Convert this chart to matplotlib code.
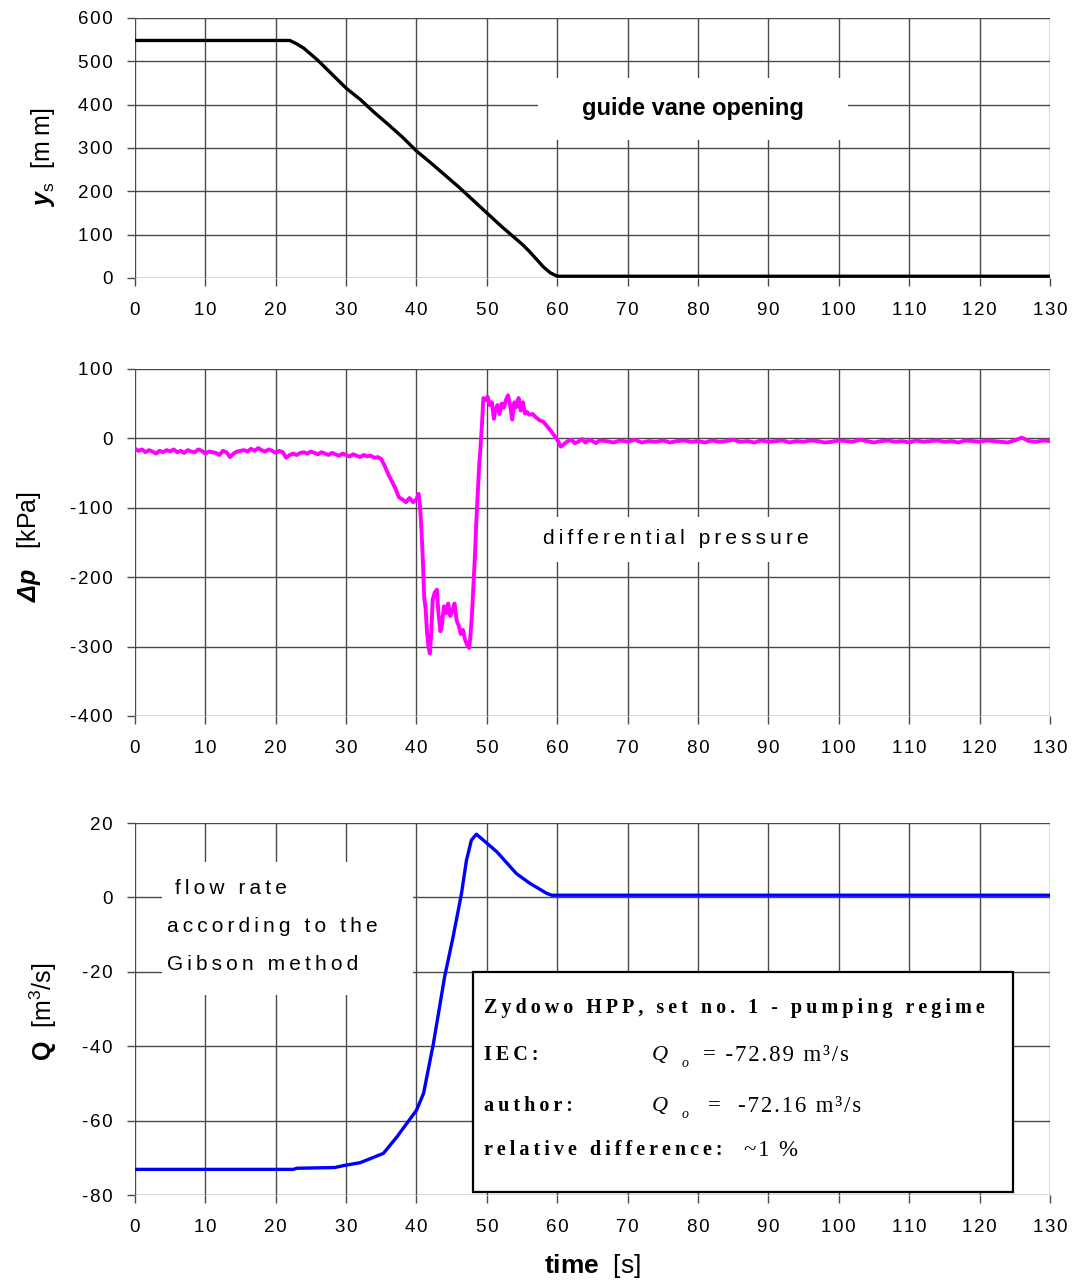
import numpy as np
import matplotlib
matplotlib.use('Agg')
import matplotlib.pyplot as plt
from matplotlib.patches import Rectangle
from matplotlib.ticker import FuncFormatter

plt.rcParams['font.family'] = ['Liberation Sans', 'DejaVu Sans']
plt.rcParams['axes.unicode_minus'] = False
plt.rcParams['mathtext.fontset'] = 'custom'
plt.rcParams['mathtext.rm'] = 'Liberation Sans'
plt.rcParams['mathtext.it'] = 'Liberation Sans:italic'
plt.rcParams['mathtext.bf'] = 'Liberation Sans:bold'
plt.rcParams['mathtext.bfit'] = 'Liberation Sans:bold:italic'

# guide vane opening y_s [mm]
t_vane = [0, 22, 23, 24, 26, 28, 30, 32, 34, 36, 38, 40, 42, 44, 46, 48,
          50, 52, 54, 55, 56, 57, 58, 59, 60, 130]
ys_vane = [548, 548, 540, 530, 502, 470, 438, 412, 382, 354, 325, 293, 266,
           238, 210, 180, 150, 120, 92, 78, 62, 44, 26, 12, 4, 4]

# differential pressure [kPa]
t_dp_early = np.arange(0, 34.5, 0.5)
dp_early = [-15, -18, -16, -20, -17, -19, -22, -18, -20, -17,
            -19, -16, -20, -18, -21, -17, -19, -20, -16, -18,
            -22, -19, -20, -21, -24, -18, -20, -27, -22, -19,
            -18, -17, -19, -15, -18, -14, -17, -19, -16, -18,
            -21, -18, -20, -28, -24, -22, -24, -21, -20, -22,
            -19, -21, -23, -20, -22, -24, -21, -23, -25, -22,
            -24, -26, -23, -25, -27, -24, -26, -25, -28]
t_dp_mid = [34.5, 35, 35.5, 36, 36.5, 37, 37.5, 38, 38.5, 39, 39.5, 40, 40.3,
            40.5, 40.7, 40.9, 41.1, 41.3, 41.5, 41.7, 41.9, 42.1, 42.3, 42.6,
            42.9, 43.1, 43.4, 43.6, 43.9, 44.2, 44.5, 44.8, 45.1, 45.4, 45.7,
            46.0, 46.3, 46.6, 46.9, 47.2, 47.5, 47.7, 47.9, 48.1, 48.3, 48.5,
            48.7, 48.9, 49.1, 49.3, 49.5, 49.8, 50.1, 50.4, 50.7, 51.0, 51.2,
            51.5, 51.8, 52.1, 52.4, 52.7, 53.0, 53.3, 53.6, 53.9, 54.2, 54.5,
            54.8, 55.1, 55.4, 55.7, 56.0, 56.5, 57.0, 57.5, 58.0, 58.5, 59.0,
            59.5, 60.0, 60.5, 61.0, 61.5, 62.0, 62.5, 63.0, 63.5, 64.0, 64.5,
            65.0, 65.5, 66.0]
dp_mid = [-27, -30, -40, -52, -62, -72, -85, -88, -92, -86, -92, -88, -80,
          -98, -130, -175, -230, -245, -280, -300, -310, -280, -232, -222,
          -218, -250, -278, -270, -242, -252, -238, -256, -248, -238, -262,
          -270, -282, -276, -290, -298, -302, -280, -250, -210, -170, -120,
          -80, -40, -12, 20, 58, 55, 60, 48, 52, 28, 40,
          48, 35, 50, 44, 55, 62, 48, 27, 52, 45, 58,
          40, 52, 36, 38, 34, 35, 30, 26, 24, 18, 12,
          5, -2, -12, -8, -4, -2, -7, -5, -1, -6, -2,
          -4, -7, -3]
t_dp_late = np.arange(67, 131, 1)
dp_late = [-4, -6, -3, -5, -2, -6, -4, -5, -3, -6,
           -4, -3, -5, -4, -6, -3, -5, -4, -2, -5,
           -4, -6, -3, -5, -4, -3, -6, -4, -5, -3,
           -4, -6, -5, -3, -4, -5, -2, -4, -6, -4,
           -3, -5, -4, -6, -3, -5, -4, -3, -5, -4,
           -6, -3, -4, -5, -3, -4, -5, -6, -3, 1,
           -4, -5, -3, -4]

# flow rate Q [m3/s]
t_q = [0, 22.5, 23, 28.4, 29.6, 32, 35.3, 37.2, 38.6, 40, 41, 42.4, 44, 45.2,
       46.4, 47.1, 47.8, 48.5, 49.5, 51.4, 54.2, 56.1, 58.5, 59.2, 130]
q = [-73.1, -73.1, -72.8, -72.6, -72.1, -71.3, -68.8, -64.4, -60.8, -57.2,
     -52.7, -39.3, -21.3, -10.6, 1.1, 10, 15.4, 17, 15.4, 12.3, 6.4, 3.8,
     1.1, 0.6, 0.6]

t_dp = np.concatenate([t_dp_early, t_dp_mid, t_dp_late])
dp = np.concatenate([dp_early, dp_mid, dp_late])

xticks = list(range(0, 131, 10))
grid_col = '#4a4a4a'


def spaced(s, sep='\u2009'):
    return sep.join(s)


tickFmt = FuncFormatter(lambda v, pos: spaced('%d' % v, '\u200a'))


def styleAxis(ax, ylim, yticks):
    ax.set_xlim(0, 130)
    ax.set_ylim(*ylim)
    ax.set_xticks(xticks)
    ax.set_yticks(yticks)
    ax.xaxis.set_major_formatter(tickFmt)
    ax.yaxis.set_major_formatter(tickFmt)
    for sp in ax.spines.values():
        sp.set_visible(False)
    ax.set_axisbelow(True)
    ax.grid(True, color=grid_col, linewidth=1.0)
    ax.tick_params(axis='both', direction='out', length=6, width=1.0,
                   color=grid_col, labelsize=13.5)
    ax.tick_params(axis='x', pad=11)
    ax.tick_params(axis='y', pad=10)


def mask(ax, x0, x1, y0, y1):
    ax.add_patch(Rectangle((x0, y0), x1 - x0, y1 - y0, facecolor='white',
                           edgecolor='none', zorder=1))


fig = plt.figure(figsize=(10.77, 12.81), dpi=100)
ax1 = fig.add_axes([0.1253, 0.7830, 0.8496, 0.2030])
ax2 = fig.add_axes([0.1253, 0.4411, 0.8496, 0.2709])
ax3 = fig.add_axes([0.1253, 0.0671, 0.8496, 0.2904])

# top: guide vane
styleAxis(ax1, (0, 600), range(0, 601, 100))
ax1.plot(t_vane, ys_vane, color='black', linewidth=2.4, zorder=2)
mask(ax1, 57.2, 101.3, 318.5, 461.5)
ax1.text(79.3, 392, 'guide vane opening', fontsize=17, fontweight='bold',
         ha='center', va='center', zorder=3)
ax1.set_ylabel(r'$\mathbfit{y}_{\mathrm{s}}$  [' + spaced('mm') + ']', fontsize=18)
ax1.yaxis.label.set_va('center')
ax1.yaxis.set_label_coords(-0.101, 0.465)

# middle: differential pressure
styleAxis(ax2, (-400, 100), range(-400, 101, 100))
ax2.plot(t_dp, dp, color='#ff00ff', linewidth=2.8, zorder=2)
mask(ax2, 56.1, 98.7, -178, -113)
ax2.text(76.9, -145, spaced('differential pressure'), fontsize=15,
         ha='center', va='center', zorder=3)
ax2.set_ylabel(r'$\mathbfit{\Delta p}$   [kPa]', fontsize=18)
ax2.yaxis.label.set_va('center')
ax2.yaxis.set_label_coords(-0.116, 0.487)

# bottom: flow rate
styleAxis(ax3, (-80, 20), range(-80, 21, 20))
ax3.plot(t_q, q, color='#0000ff', linewidth=2.4, zorder=2)
mask(ax3, 3.8, 39.5, -26.2, 9.6)
ax3.text(5.7, 2.4, spaced('flow rate'), fontsize=15, va='center', zorder=3)
ax3.text(4.6, -7.8, spaced('according to the'), fontsize=15, va='center', zorder=3)
ax3.text(4.6, -18.0, spaced('Gibson method'), fontsize=15, va='center', zorder=3)
ax3.set_ylabel(r'$\mathbf{Q}$  [m$^{3}$/s]', fontsize=18)
ax3.yaxis.label.set_va('center')
ax3.yaxis.set_label_coords(-0.100, 0.492)
ax3.set_xlabel(r'$\mathbf{time}$  [s]', fontsize=19)
ax3.xaxis.set_label_coords(0.5, -0.152)

# info box
ax3.add_patch(Rectangle((48.0, -79.2), 76.7, 59.15, facecolor='white',
                        edgecolor='black', linewidth=1.6, zorder=3))
serif = ['Liberation Serif', 'DejaVu Serif']
bx = 49.6
ax3.text(bx, -29.7, spaced('Zydowo HPP, set no. 1 - pumping regime'),
         family=serif, fontweight='bold', fontsize=14.5, va='center', zorder=4)
ax3.text(bx, -42.4, spaced('IEC:'), family=serif, fontweight='bold',
         fontsize=14.5, va='center', zorder=4)
ax3.text(bx, -56.1, spaced('author:'), family=serif, fontweight='bold',
         fontsize=14.5, va='center', zorder=4)
ax3.text(bx, -67.9, spaced('relative difference:'), family=serif,
         fontweight='bold', fontsize=14.5, va='center', zorder=4)
for yy, val, xv in [(-42.4, '= -72.89 m\u00b3/s', 80.7),
                    (-56.1, '=  -72.16 m\u00b3/s', 81.4)]:
    ax3.text(73.4, yy, 'Q', family=serif, style='italic', fontsize=16,
             va='center', zorder=4)
    ax3.text(77.6, yy - 2.2, 'o', family=serif, style='italic', fontsize=10,
             va='center', zorder=4)
    ax3.text(xv, yy, spaced(val, '\u200a'), family=serif, fontsize=16.5,
             va='center', zorder=4)
ax3.text(86.6, -67.9, spaced('~1 %', '\u200a'), family=serif, fontsize=16.5,
         va='center', zorder=4)

fig.savefig('out.png', dpi=100)
